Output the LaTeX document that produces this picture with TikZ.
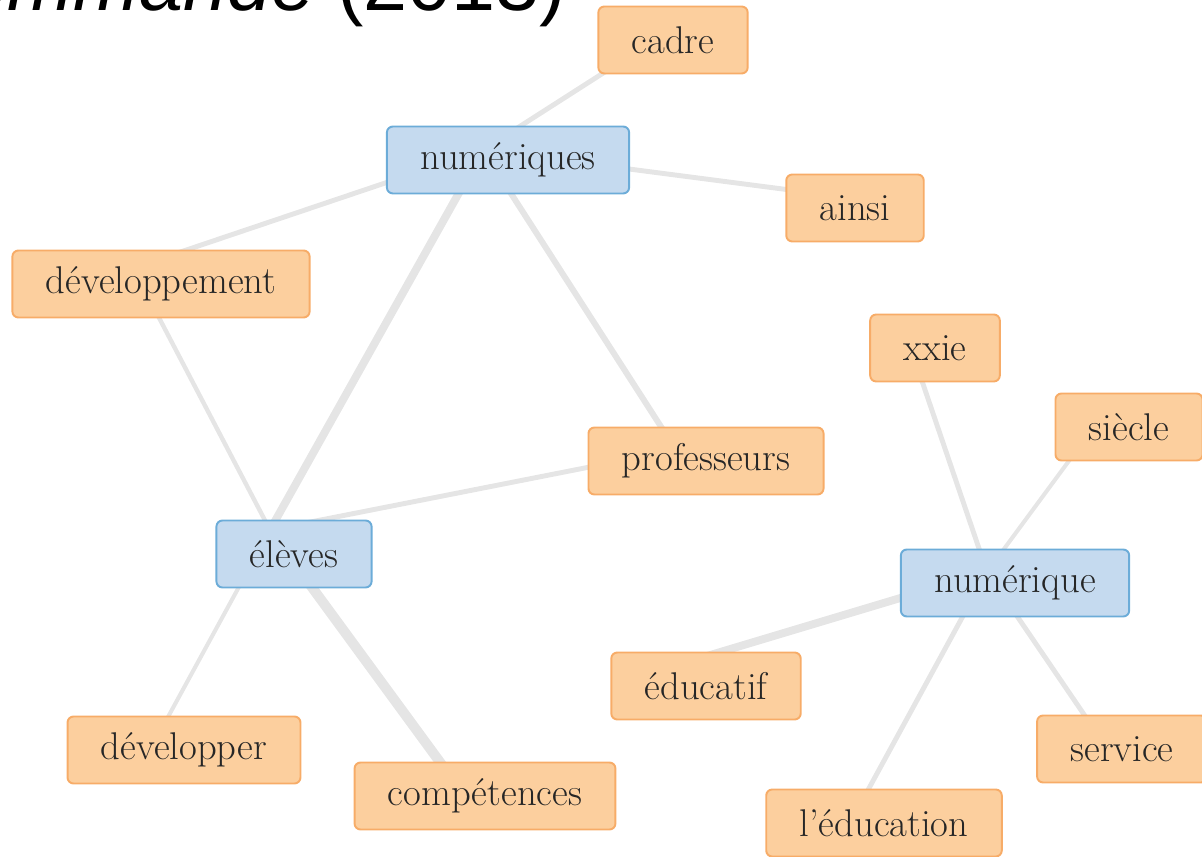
\documentclass[tikz,border=0pt]{standalone}
\usepackage{fontspec}
\newfontfamily\titlefont{Liberation Sans}
\usepackage{tikz}
\usetikzlibrary{positioning}

\definecolor{leaffill}{RGB}{252,207,158}
\definecolor{leafdraw}{RGB}{247,172,104}
\definecolor{hubfill}{RGB}{197,218,239}
\definecolor{hubdraw}{RGB}{108,172,216}
\definecolor{linkgray}{RGB}{229,229,229}
\definecolor{labelgray}{RGB}{38,38,38}

\begin{document}
\begin{tikzpicture}[
        x=0.02cm, y=-0.02cm,
        word/.style={rectangle, rounded corners=3.4pt, line width=1.1pt, minimum height=1.34cm,
                     inner xsep=19pt, text=labelgray, font=\fontsize{22}{26}\selectfont},
        leaf/.style={word, draw=leafdraw, fill=leaffill},
        hub/.style={word, draw=hubdraw, fill=hubfill},
        link/.style={draw=linkgray, line width=#1, line cap=round},
        link/.default=2.8pt
    ]
        \useasboundingbox (0,0) rectangle (1202,857);

        % title, cut by the top of the page
        \node[anchor=base east, inner sep=0pt, font=\titlefont\fontsize{45}{50}\selectfont] (title) at (566,11) {\textit{Commande} (2013)};

        % graph points
        \coordinate (v-numeriques) at (483,150);
        \coordinate (v-eleves) at (270,530);
        \coordinate (v-numerique) at (987,572);
        \coordinate (v-professeurs) at (676,450);
        \coordinate (v-developpement) at (133,268);
        \coordinate (v-cadre) at (672,29);
        \coordinate (v-ainsi) at (844,197);
        \coordinate (v-developper) at (156,739);
        \coordinate (v-competences) at (456,784);
        \coordinate (v-xxie) at (907,337);
        \coordinate (v-siecle) at (1102,416);
        \coordinate (v-educatif) at (647,674);
        \coordinate (v-service) at (1100,738);
        \coordinate (v-education) at (856,812);

        \draw[link] (v-numeriques) -- (v-cadre);
        \draw[link] (v-numeriques) -- (v-ainsi);
        \draw[link] (v-numeriques) -- (v-developpement);
        \draw[link=4.5pt] (v-numeriques) -- (v-eleves);
        \draw[link=3.4pt] (v-numeriques) -- (v-professeurs);
        \draw[link=2.5pt] (v-developpement) -- (v-eleves);
        \draw[link] (v-professeurs) -- (v-eleves);
        \draw[link=2.3pt] (v-eleves) -- (v-developper);
        \draw[link=5.7pt] (v-eleves) -- (v-competences);
        \draw[link] (v-numerique) -- (v-xxie);
        \draw[link=2.3pt] (v-numerique) -- (v-siecle);
        \draw[link=4.5pt] (v-numerique) -- (v-educatif);
        \draw[link] (v-numerique) -- (v-service);
        \draw[link] (v-numerique) -- (v-education);

        \node[leaf] (cadre) at (673,40) {cadre};
        \node[hub] (numeriques) at (508,160) {numériques};
        \node[leaf] (ainsi) at (855,208) {ainsi};
        \node[leaf] (developpement) at (161,284) {développement};
        \node[leaf] (xxie) at (935,348) {xxie};
        \node[leaf] (siecle) at (1129,427) {siècle};
        \node[leaf] (professeurs) at (706,461) {professeurs};
        \node[hub] (eleves) at (294,554) {élèves};
        \node[hub] (numerique) at (1015,583) {numérique};
        \node[leaf] (educatif) at (706,686) {éducatif};
        \node[leaf] (developper) at (184,750) {développer};
        \node[leaf] (service) at (1122,749) {service};
        \node[leaf] (competences) at (485,796) {compétences};
        \node[leaf] (education) at (884,823) {l’éducation};
    \end{tikzpicture}
\end{document}
